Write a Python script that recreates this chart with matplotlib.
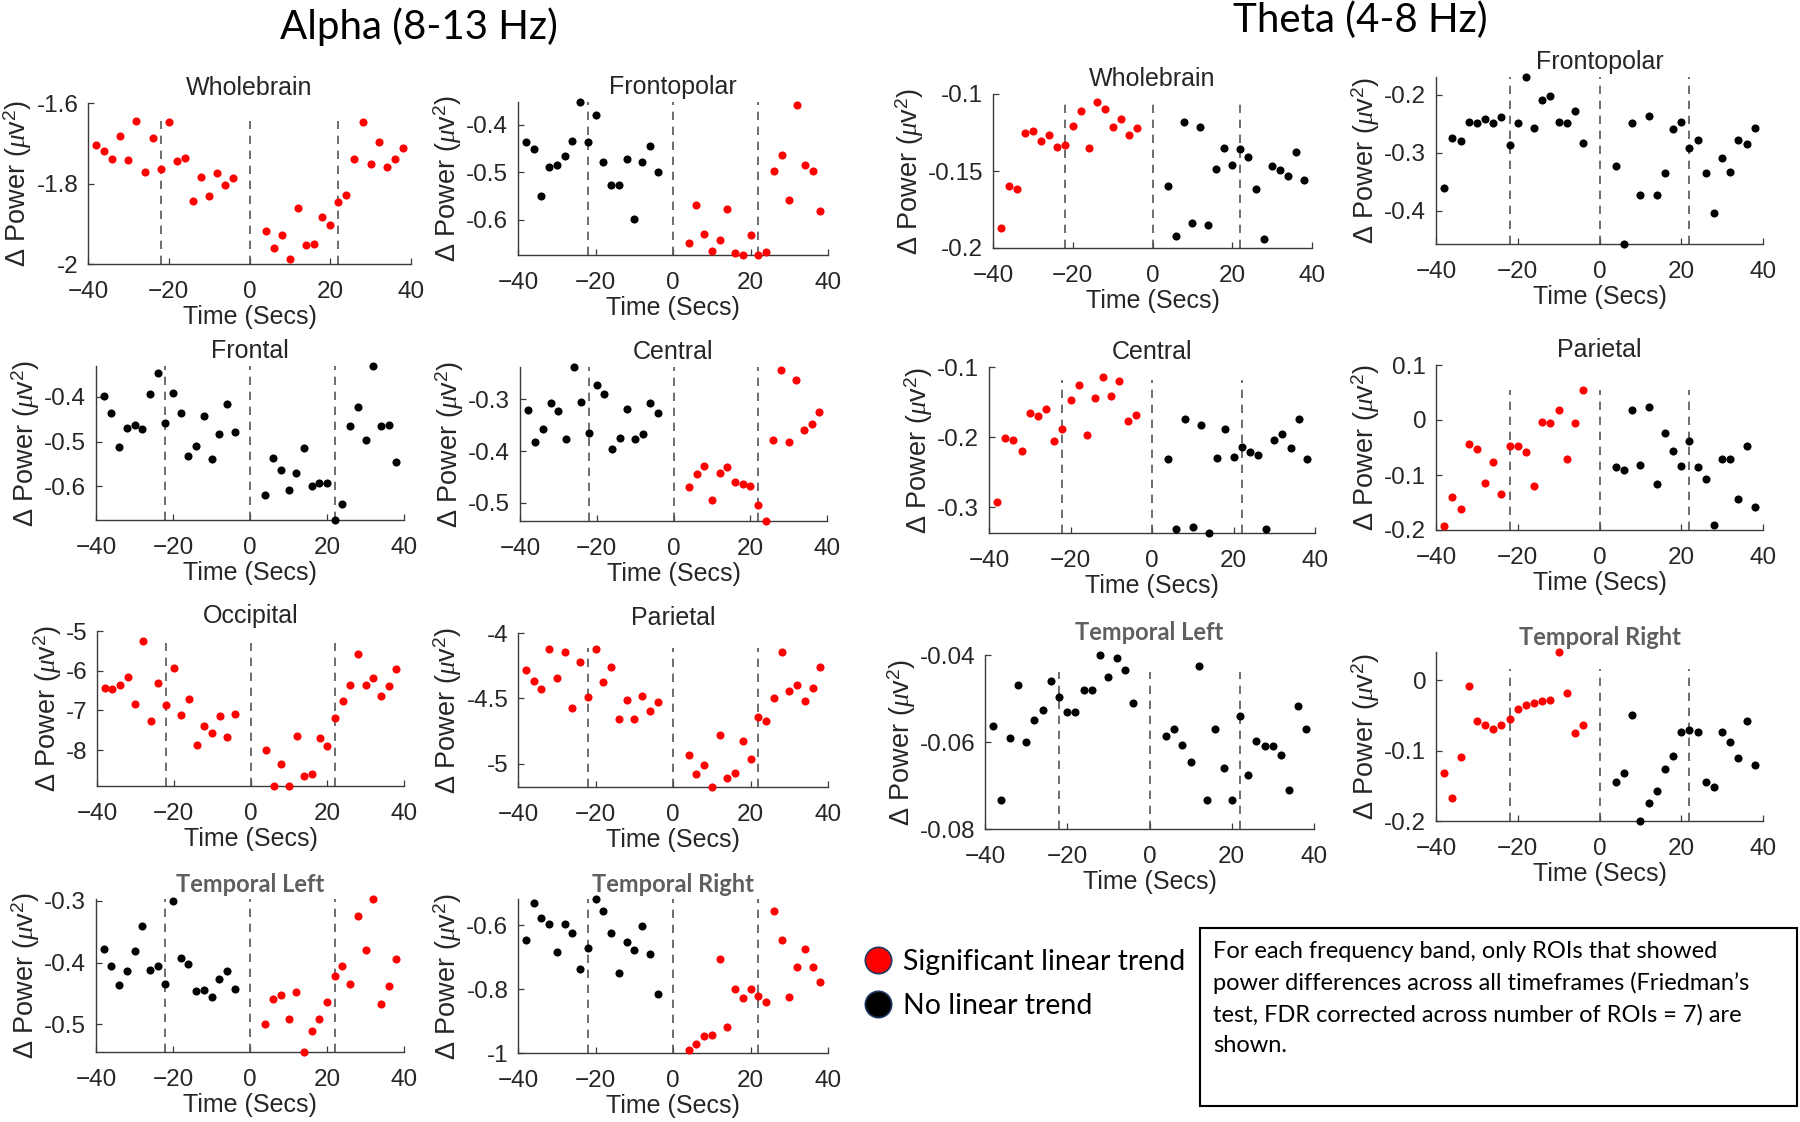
import matplotlib
matplotlib.use("Agg")
import matplotlib.pyplot as plt
from matplotlib.lines import Line2D
from matplotlib.patches import Rectangle
from matplotlib.ticker import FuncFormatter

plt.rcParams["font.family"] = ["Liberation Sans", "DejaVu Sans"]
plt.rcParams["mathtext.fontset"] = "custom"
plt.rcParams["mathtext.rm"] = "Liberation Sans"
plt.rcParams["mathtext.it"] = "Liberation Serif:italic"

# ---- data -------------------------------------------------------------
TIME = [-38, -36, -34, -32, -30, -28, -26, -24, -22, -20, -18, -16, -14, -12, -10, -8, -6, -4,
        4, 6, 8, 10, 12, 14, 16, 18, 20, 22, 24, 26, 28, 30, 32, 34, 36, 38]
EVENT_LINES = [-22, 0, 22]

ALPHA_WHOLEBRAIN = [-1.704, -1.719, -1.738, -1.681, -1.742, -1.645, -1.772, -1.688, -1.763,
                    -1.648, -1.745, -1.737, -1.843, -1.784, -1.831, -1.773, -1.803, -1.787,
                    -1.918, -1.960, -1.929, -1.988, -1.860, -1.952, -1.951, -1.882, -1.903,
                    -1.845, -1.828, -1.740, -1.647, -1.752, -1.696, -1.759, -1.739, -1.712]
ALPHA_FRONTOPOLAR = [-0.437, -0.451, -0.549, -0.488, -0.485, -0.466, -0.435, -0.351, -0.437,
                     -0.379, -0.478, -0.526, -0.526, -0.472, -0.599, -0.478, -0.445, -0.500,
                     -0.649, -0.569, -0.629, -0.666, -0.642, -0.577, -0.669, -0.673, -0.632,
                     -0.674, -0.667, -0.497, -0.464, -0.558, -0.358, -0.484, -0.497, -0.581]
ALPHA_FRONTAL = [-0.399, -0.435, -0.513, -0.469, -0.463, -0.471, -0.394, -0.346, -0.458,
                 -0.392, -0.435, -0.532, -0.509, -0.443, -0.538, -0.482, -0.415, -0.478,
                 -0.619, -0.537, -0.564, -0.609, -0.571, -0.515, -0.600, -0.593, -0.593,
                 -0.675, -0.640, -0.464, -0.422, -0.497, -0.331, -0.464, -0.463, -0.546]
ALPHA_CENTRAL = [-0.320, -0.383, -0.357, -0.307, -0.323, -0.377, -0.238, -0.306, -0.366,
                 -0.273, -0.290, -0.396, -0.375, -0.319, -0.376, -0.368, -0.308, -0.326,
                 -0.469, -0.445, -0.429, -0.494, -0.443, -0.430, -0.460, -0.463, -0.467,
                 -0.505, -0.535, -0.379, -0.244, -0.383, -0.263, -0.360, -0.348, -0.325]
ALPHA_OCCIPITAL = [-6.44, -6.45, -6.36, -6.16, -6.84, -5.24, -7.27, -6.32, -6.87,
                   -5.93, -7.11, -6.71, -7.88, -7.40, -7.56, -7.13, -7.66, -7.08,
                   -7.99, -8.90, -8.34, -8.90, -7.65, -8.66, -8.60, -7.68, -7.89,
                   -7.20, -6.75, -6.36, -5.57, -6.36, -6.18, -6.63, -6.39, -5.96]
ALPHA_PARIETAL = [-4.280, -4.364, -4.425, -4.122, -4.344, -4.145, -4.575, -4.219, -4.489,
                  -4.122, -4.374, -4.260, -4.660, -4.510, -4.660, -4.478, -4.595, -4.527,
                  -4.930, -5.076, -5.008, -5.176, -4.776, -5.109, -5.066, -4.824, -4.959,
                  -4.644, -4.672, -4.496, -4.145, -4.445, -4.397, -4.517, -4.417, -4.260]
ALPHA_TEMPORAL_LEFT = [-0.378, -0.405, -0.436, -0.413, -0.382, -0.340, -0.412, -0.406, -0.434,
                       -0.300, -0.393, -0.402, -0.446, -0.444, -0.456, -0.426, -0.414, -0.443,
                       -0.500, -0.459, -0.453, -0.491, -0.448, -0.545, -0.511, -0.492, -0.464,
                       -0.421, -0.405, -0.434, -0.324, -0.380, -0.297, -0.467, -0.438, -0.395]
ALPHA_TEMPORAL_RIGHT = [-0.646, -0.531, -0.576, -0.595, -0.682, -0.595, -0.624, -0.735, -0.672,
                        -0.517, -0.555, -0.623, -0.748, -0.653, -0.676, -0.602, -0.688, -0.816,
                        -0.990, -0.973, -0.946, -0.942, -0.704, -0.920, -0.799, -0.828, -0.798,
                        -0.820, -0.839, -0.555, -0.646, -0.825, -0.730, -0.673, -0.730, -0.776]

THETA_WHOLEBRAIN = [-0.1873, -0.1600, -0.1620, -0.1255, -0.1240, -0.1307, -0.1268, -0.1346, -0.1330,
                    -0.1207, -0.1110, -0.1352, -0.1054, -0.1100, -0.1212, -0.1164, -0.1263, -0.1220,
                    -0.1598, -0.1922, -0.1184, -0.1836, -0.1216, -0.1853, -0.1490, -0.1352, -0.1460,
                    -0.1356, -0.1410, -0.1620, -0.1942, -0.1470, -0.1495, -0.1530, -0.1378, -0.1560]
THETA_FRONTOPOLAR = [-0.360, -0.275, -0.280, -0.247, -0.248, -0.241, -0.248, -0.238, -0.287,
                     -0.249, -0.169, -0.257, -0.209, -0.202, -0.246, -0.248, -0.227, -0.282,
                     -0.323, -0.457, -0.249, -0.372, -0.236, -0.372, -0.334, -0.258, -0.247,
                     -0.292, -0.278, -0.334, -0.404, -0.308, -0.332, -0.278, -0.284, -0.257]
THETA_CENTRAL = [-0.293, -0.201, -0.204, -0.220, -0.165, -0.170, -0.160, -0.206, -0.188,
                 -0.147, -0.126, -0.197, -0.144, -0.114, -0.141, -0.120, -0.177, -0.169,
                 -0.232, -0.332, -0.174, -0.329, -0.183, -0.337, -0.230, -0.188, -0.228,
                 -0.214, -0.221, -0.225, -0.332, -0.204, -0.195, -0.216, -0.174, -0.232]
THETA_PARIETAL = [-0.192, -0.140, -0.162, -0.043, -0.053, -0.114, -0.077, -0.134, -0.047,
                  -0.048, -0.058, -0.120, -0.004, -0.005, 0.019, -0.071, -0.006, 0.055,
                  -0.086, -0.091, 0.018, -0.082, 0.023, -0.117, -0.024, -0.056, -0.084,
                  -0.038, -0.086, -0.108, -0.190, -0.071, -0.071, -0.144, -0.048, -0.159]
THETA_TEMPORAL_LEFT = [-0.0563, -0.0734, -0.0590, -0.0470, -0.0600, -0.0550, -0.0526, -0.0460, -0.0497,
                       -0.0530, -0.0530, -0.0480, -0.0480, -0.0400, -0.0450, -0.0406, -0.0434, -0.0510,
                       -0.0586, -0.0570, -0.0606, -0.0646, -0.0426, -0.0734, -0.0570, -0.0660, -0.0734,
                       -0.0540, -0.0677, -0.0597, -0.0610, -0.0610, -0.0630, -0.0710, -0.0517, -0.0570]
THETA_TEMPORAL_RIGHT = [-0.132, -0.167, -0.109, -0.008, -0.058, -0.064, -0.069, -0.064, -0.055,
                        -0.041, -0.035, -0.032, -0.030, -0.028, 0.040, -0.018, -0.075, -0.064,
                        -0.145, -0.132, -0.050, -0.200, -0.175, -0.157, -0.126, -0.107, -0.074,
                        -0.071, -0.074, -0.145, -0.152, -0.074, -0.088, -0.111, -0.058, -0.121]

# significant linear trend (red) for the pre-event and post-event halves
ALPHA_SIG = {"Wholebrain": (1, 1), "Frontopolar": (0, 1), "Frontal": (0, 0), "Central": (0, 1),
             "Occipital": (1, 1), "Parietal": (1, 1), "Temporal Left": (0, 1), "Temporal Right": (0, 1)}
THETA_SIG = {"Wholebrain": (1, 0), "Frontopolar": (0, 0), "Central": (1, 0), "Parietal": (1, 0),
             "Temporal Left": (0, 0), "Temporal Right": (1, 0)}

ALPHA_YTICKS = {"Wholebrain": [-2, -1.8, -1.6], "Frontopolar": [-0.6, -0.5, -0.4],
                "Frontal": [-0.6, -0.5, -0.4], "Central": [-0.5, -0.4, -0.3],
                "Occipital": [-8, -7, -6, -5], "Parietal": [-5, -4.5, -4],
                "Temporal Left": [-0.5, -0.4, -0.3], "Temporal Right": [-1, -0.8, -0.6]}
THETA_YTICKS = {"Wholebrain": [-0.2, -0.15, -0.1], "Frontopolar": [-0.4, -0.3, -0.2],
                "Central": [-0.3, -0.2, -0.1], "Parietal": [-0.2, -0.1, 0, 0.1],
                "Temporal Left": [-0.08, -0.06, -0.04], "Temporal Right": [-0.2, -0.1, 0]}

ALPHA_YLIM = {"Wholebrain": (-2, -1.6), "Frontopolar": (-0.674, -0.352), "Frontal": (-0.675, -0.331),
              "Central": (-0.535, -0.238), "Occipital": (-8.9, -5), "Parietal": (-5.176, -4),
              "Temporal Left": (-0.545, -0.297), "Temporal Right": (-1, -0.517)}
THETA_YLIM = {"Wholebrain": (-0.2, -0.1), "Frontopolar": (-0.457, -0.169), "Central": (-0.337, -0.1),
              "Parietal": (-0.2, 0.1), "Temporal Left": (-0.08, -0.04), "Temporal Right": (-0.2, 0.04)}

ALPHA_VALUES = {"Wholebrain": ALPHA_WHOLEBRAIN, "Frontopolar": ALPHA_FRONTOPOLAR,
                "Frontal": ALPHA_FRONTAL, "Central": ALPHA_CENTRAL, "Occipital": ALPHA_OCCIPITAL,
                "Parietal": ALPHA_PARIETAL, "Temporal Left": ALPHA_TEMPORAL_LEFT,
                "Temporal Right": ALPHA_TEMPORAL_RIGHT}
THETA_VALUES = {"Wholebrain": THETA_WHOLEBRAIN, "Frontopolar": THETA_FRONTOPOLAR,
                "Central": THETA_CENTRAL, "Parietal": THETA_PARIETAL,
                "Temporal Left": THETA_TEMPORAL_LEFT, "Temporal Right": THETA_TEMPORAL_RIGHT}

# ---- layout (pixel boxes: left, top, right, bottom) and style ---------
W, H = 1800, 1122
ALPHA_BOX = {"Wholebrain": (88, 103, 411, 264), "Frontopolar": (518, 102, 828, 255),
             "Frontal": (96, 366, 404, 520), "Central": (520, 367, 827, 521),
             "Occipital": (97, 631, 404, 786), "Parietal": (518, 633, 828, 787),
             "Temporal Left": (96, 899, 404, 1052), "Temporal Right": (518, 899, 828, 1053)}
THETA_BOX = {"Wholebrain": (993, 94, 1312, 248), "Frontopolar": (1436, 77, 1763, 244),
             "Central": (989, 367, 1315, 533), "Parietal": (1436, 365, 1763, 530),
             "Temporal Left": (985, 655, 1314, 829), "Temporal Right": (1436, 652, 1763, 821)}
ALPHA_DASH_TOP = {"Wholebrain": 0.89, "Frontopolar": 1.0, "Frontal": 1.0, "Central": 1.0,
                  "Occipital": 0.92, "Parietal": 0.9, "Temporal Left": 1.0, "Temporal Right": 1.0}
THETA_DASH_TOP = {"Wholebrain": 0.95, "Frontopolar": 1.0, "Central": 0.92, "Parietal": 0.85,
                  "Temporal Left": 0.9, "Temporal Right": 0.9}
TITLE_PAD = {"Temporal Left": 11}

RED, BLACK = "#ff0000", "#000000"
AX_COLOR = "#3a3a3a"
TEXT_COLOR = "#262626"
TITLE_GREY = "#5f5f5f"
CALIBRI_LIKE = ["Lato", "DejaVu Sans"]


def draw_panel(fig, name, values, sig, yticks, ylim, box, dash_top, title_pad=5):
    l, t, r, b = box
    ax = fig.add_axes([l / W, 1 - b / H, (r - l) / W, (b - t) / H])
    n = len(TIME) // 2
    for half, flag in zip((slice(0, n), slice(n, None)), sig):
        ax.scatter(TIME[half], values[half], s=34, color=RED if flag else BLACK,
                   linewidths=0, zorder=3, clip_on=False)
    for x in EVENT_LINES:
        ax.axvline(x, ymin=0, ymax=dash_top, color="#555555", ls=(0, (5, 4)), lw=1.2, zorder=2)
    ax.set_xlim(-40, 40)
    ax.set_ylim(*ylim)
    ax.set_xticks([-40, -20, 0, 20, 40])
    ax.set_yticks(yticks)
    ax.yaxis.set_major_formatter(FuncFormatter(lambda v, p: f"{v:g}"))
    for side in ("top", "right"):
        ax.spines[side].set_visible(False)
    for side in ("left", "bottom"):
        ax.spines[side].set_color(AX_COLOR)
        ax.spines[side].set_linewidth(1.0)
    ax.tick_params(direction="in", length=4, width=0.9, colors=AX_COLOR,
                   labelcolor=TEXT_COLOR, labelsize=17.5)
    ax.tick_params(axis="x", pad=12)
    ax.tick_params(axis="y", pad=7)
    ax.set_xlabel("Time (Secs)", fontsize=18, color=TEXT_COLOR, labelpad=2)
    ax.set_ylabel(r"$\Delta$ Power ($\mu$v$^2$)", fontsize=19.5, color=TEXT_COLOR, labelpad=1.5)
    if name.startswith("Temporal"):
        ax.set_title(name, fontsize=17, fontweight="bold", color=TITLE_GREY,
                     family=CALIBRI_LIKE, pad=title_pad)
    else:
        ax.set_title(name, fontsize=18, color=TEXT_COLOR, pad=6)
    return ax


fig = plt.figure(figsize=(W / 100, H / 100), dpi=100)

for name, vals in ALPHA_VALUES.items():
    draw_panel(fig, name, vals, ALPHA_SIG[name], ALPHA_YTICKS[name], ALPHA_YLIM[name],
               ALPHA_BOX[name], ALPHA_DASH_TOP[name])
for name, vals in THETA_VALUES.items():
    draw_panel(fig, name, vals, THETA_SIG[name], THETA_YTICKS[name], THETA_YLIM[name],
               THETA_BOX[name], THETA_DASH_TOP[name], TITLE_PAD.get(name, 5))

fig.text(419 / W, 1 - 27 / H, "Alpha (8-13 Hz)", fontsize=29, family=CALIBRI_LIKE,
         color="#000000", ha="center", va="center")
fig.text(1360 / W, 1 - 20 / H, "Theta (4-8 Hz)", fontsize=29, family=CALIBRI_LIKE,
         color="#000000", ha="center", va="center")

# legend
handles = [
    Line2D([], [], ls="none", marker="o", markersize=19, markerfacecolor=RED,
           markeredgecolor="#1f3864", markeredgewidth=1.2),
    Line2D([], [], ls="none", marker="o", markersize=19, markerfacecolor=BLACK,
           markeredgecolor="#1f3864", markeredgewidth=1.2),
]
fig.legend(handles, ["Significant linear trend", "No linear trend"], loc="upper left",
           bbox_to_anchor=(852 / W, 1 - 938 / H), frameon=False, handlelength=1.0,
           handletextpad=0.4, labelspacing=0.62, borderaxespad=0,
           prop={"family": CALIBRI_LIKE, "size": 20.5})

# note box
fig.add_artist(Rectangle((1200 / W, 1 - 1106 / H), 597 / W, 178 / H, transform=fig.transFigure,
                         facecolor="white", edgecolor="black", linewidth=1.5))
fig.text(1213 / W, 1 - 941 / H,
         "For each frequency band, only ROIs that showed\n"
         "power differences across all timeframes (Friedman\u2019s\n"
         "test, FDR corrected across number of ROIs = 7) are\n"
         "shown.",
         fontsize=17, family=CALIBRI_LIKE, color="#000000", ha="left", va="top",
         linespacing=1.55)

fig.savefig("out.png", dpi=100)
